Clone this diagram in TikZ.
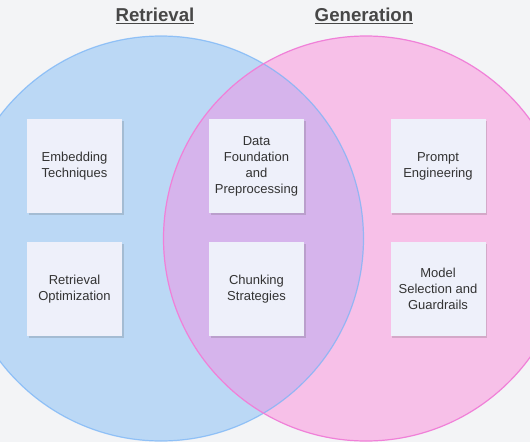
\documentclass[tikz,border=0pt]{standalone}
\usepackage{fontspec}
\setmainfont{Liberation Sans}
\usepackage{tikz}
\usetikzlibrary{shadows}

\definecolor{bgc}{RGB}{243,244,246}
\definecolor{retfill}{RGB}{187,216,245}
\definecolor{retline}{RGB}{122,181,247}
\definecolor{genfill}{RGB}{247,192,232}
\definecolor{genline}{RGB}{240,128,216}
\definecolor{bothfill}{RGB}{214,180,236}
\definecolor{notefill}{RGB}{238,240,250}
\definecolor{textc}{RGB}{51,51,51}

\tikzset{
  note/.style={fill=notefill, minimum width=71.25pt, minimum height=70.5pt, inner sep=0pt,
    align=center, text=textc, font=\fontsize{9.75}{12}\selectfont,
    drop shadow={shadow xshift=1.2pt, shadow yshift=-1.8pt, opacity=0.2, fill=black!70}},
  title/.style={text=textc!90, font=\fontsize{14}{16}\bfseries\selectfont}
}

\begin{document}
\begin{tikzpicture}[x=0.75pt,y=0.75pt,yscale=-1,xscale=1]
%background
\fill[bgc] (0,0) rectangle (530,442);
\clip (0,0) rectangle (530,442);

%Shape: Circle [Retrieval]
\fill[retfill] (161,238.5) circle [radius=202.5];
%Shape: Circle [Generation]
\fill[genfill] (366,238.5) circle [radius=202.5];
%overlap
\begin{scope}
\clip (161,238.5) circle [radius=202.5];
\fill[bothfill] (366,238.5) circle [radius=202.5];
\end{scope}
\draw[retline, line width=0.9, opacity=0.75] (161,238.5) circle [radius=202.5];
\draw[genline, line width=0.9] (366,238.5) circle [radius=202.5];

%Titles
\node[title] (ret) at (155,16) {\underline{Retrieval}};
\node[title] (gen) at (364,16) {\underline{Generation}};

%Notes
\node[note] (embed) at (74.5,166) {Embedding\\Techniques};
\node[note] (retopt) at (74.5,289) {Retrieval\\Optimization};
\node[note] (data) at (256.5,166) {Data\\Foundation\\and\\Preprocessing};
\node[note] (chunk) at (256.5,289) {Chunking\\Strategies};
\node[note] (prompt) at (438,166) {Prompt\\Engineering};
\node[note] (model) at (438,289) {Model\\Selection and\\Guardrails};

\end{tikzpicture}
\end{document}
